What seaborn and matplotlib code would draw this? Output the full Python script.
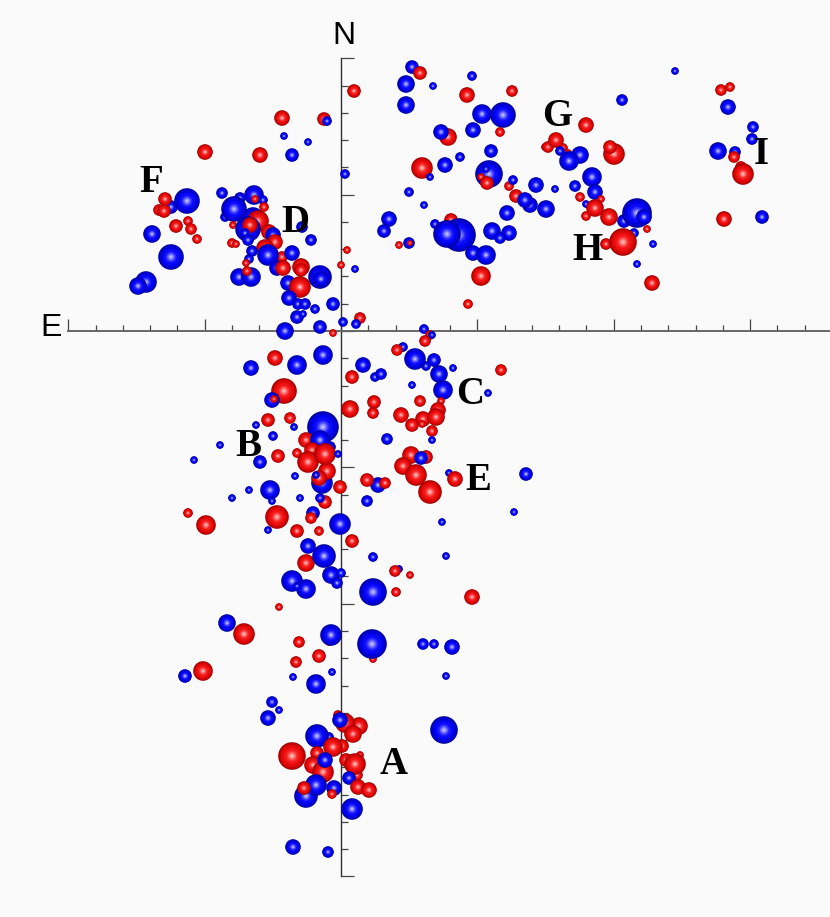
import pandas as pd
import matplotlib.pyplot as plt
import seaborn as sns

# offsets from the axis crossing, rows are kind, east-west, north-south, size
# later rows sit in front of earlier ones
north_west = [
    ("r", 13, 240, 6), ("r", -59, 213, 7), ("r", -17, 212, 6), ("b", -14, 210, 4),
    ("b", -57, 195, 3), ("b", -33, 189, 3), ("r", -136, 179, 7), ("r", -81, 176, 7),
    ("b", -49, 176, 6), ("b", 4, 157, 4),
]
cluster_f = [
    ("b", -170, 124, 6), ("r", -176, 132, 6), ("b", -154, 130, 12), ("r", -182, 121, 5),
    ("r", -177, 120, 6), ("r", -165, 105, 6), ("r", -153, 110, 4), ("r", -150, 102, 5),
    ("r", -144, 92, 4), ("b", -189, 97, 8), ("b", -170, 74, 12), ("b", -195, 49, 10),
    ("b", -203, 45, 8),
]
cluster_d = [
    ("b", -119, 138, 5), ("b", -101, 133, 5), ("b", -87, 136, 9), ("b", -78, 131, 4),
    ("r", -86, 132, 3), ("b", -116, 114, 4), ("b", -107, 122, 12), ("r", -77, 124, 4),
    ("b", -88, 113, 10), ("r", -83, 110, 10), ("r", -108, 106, 3), ("b", -39, 104, 5),
    ("b", -93, 102, 12), ("r", -91, 106, 7), ("r", -72, 99, 7), ("b", -96, 98, 4),
    ("b", -68, 96, 7), ("b", -30, 91, 5), ("b", -93, 91, 5), ("r", -109, 88, 4),
    ("r", -105, 87, 3), ("r", -66, 89, 7), ("r", -76, 83, 8), ("b", -89, 80, 5),
    ("r", -59, 74, 5), ("b", -73, 76, 10), ("b", -49, 78, 7), ("b", -92, 72, 4),
    ("r", -95, 68, 3), ("b", -64, 63, 7), ("r", -58, 63, 7), ("r", -40, 64, 8),
    ("r", -40, 61, 6), ("b", -102, 54, 8), ("b", -90, 54, 9), ("r", -94, 60, 4),
    ("b", -21, 54, 11), ("b", -20, 52, 7), ("b", -53, 48, 7), ("r", -41, 44, 10),
    ("b", -52, 33, 7), ("b", -43, 27, 5), ("b", -36, 27, 5), ("b", -26, 22, 4),
    ("b", -8, 27, 6), ("b", -44, 14, 6), ("b", -38, 17, 3), ("r", 19, 13, 5),
    ("b", 15, 7, 4), ("b", 2, 9, 4), ("b", -21, 4, 6), ("b", -56, 0, 8),
    ("r", -8, -2, 3), ("r", 0, 66, 3), ("b", 14, 62, 3), ("r", 6, 81, 3),
]
north_middle = [
    ("b", 48, 112, 7), ("b", 43, 100, 6), ("r", 58, 86, 3), ("b", 68, 88, 5),
    ("r", 69, 88, 2), ("b", 68, 139, 4), ("b", 71, 264, 6), ("r", 79, 258, 6),
    ("b", 65, 247, 8), ("b", 65, 226, 8), ("b", 131, 255, 4), ("b", 92, 245, 3),
    ("r", 126, 236, 7), ("r", 171, 240, 5), ("r", 107, 194, 8), ("b", 100, 199, 7),
    ("b", 141, 217, 9), ("b", 162, 216, 12), ("r", 159, 199, 4), ("b", 132, 201, 7),
    ("b", 150, 180, 6), ("b", 119, 174, 4), ("r", 81, 163, 10), ("b", 104, 166, 7),
    ("b", 89, 154, 3), ("b", 148, 157, 13), ("r", 140, 154, 3), ("b", 145, 162, 3),
    ("r", 146, 148, 6),
]
north_east = [
    ("r", 245, 206, 7), ("b", 281, 231, 5), ("b", 334, 260, 3), ("r", 389, 244, 4),
    ("r", 380, 241, 5), ("b", 387, 224, 7), ("r", 204, 184, 3), ("r", 207, 184, 5),
    ("r", 222, 183, 4), ("r", 215, 191, 7), ("r", 227, 178, 3), ("b", 219, 180, 4),
    ("b", 239, 176, 8), ("b", 228, 170, 9), ("r", 273, 177, 10), ("r", 269, 184, 6),
    ("r", 168, 145, 4), ("b", 172, 151, 4), ("b", 195, 146, 7), ("r", 175, 135, 6),
    ("b", 214, 142, 3), ("b", 234, 145, 5), ("b", 251, 154, 9), ("b", 254, 139, 7),
    ("r", 239, 134, 4), ("b", 189, 126, 7), ("b", 184, 131, 7), ("b", 205, 122, 8),
    ("b", 377, 180, 8), ("b", 412, 204, 5), ("b", 411, 192, 5), ("b", 394, 179, 5),
    ("r", 393, 174, 5), ("r", 400, 164, 5), ("r", 402, 157, 10), ("b", 83, 126, 3),
    ("b", 245, 127, 3), ("r", 260, 132, 3), ("r", 254, 123, 8), ("r", 245, 115, 4),
    ("r", 268, 114, 8), ("b", 283, 110, 6), ("b", 296, 118, 14), ("b", 303, 114, 7),
    ("b", 293, 98, 4), ("r", 306, 102, 3), ("r", 265, 87, 5), ("r", 282, 89, 13),
    ("b", 312, 87, 3), ("b", 296, 67, 3), ("r", 311, 48, 7), ("r", 383, 112, 7),
    ("b", 421, 114, 6),
]
north_low = [
    ("b", 166, 118, 7), ("b", 151, 100, 8), ("b", 168, 98, 7), ("b", 159, 93, 5),
    ("r", 110, 111, 6), ("b", 94, 107, 4), ("b", 118, 96, 16), ("b", 106, 97, 13),
    ("b", 132, 78, 7), ("b", 145, 76, 9), ("r", 140, 55, 9), ("r", 127, 27, 4),
    ("b", 83, 2, 4), ("r", 89, -4, 4), ("b", 91, -4, 3), ("r", 84, -10, 5),
]
cluster_b = [
    ("b", -18, -24, 9), ("r", -66, -27, 7), ("b", -44, -34, 9), ("b", -90, -37, 7),
    ("r", -57, -60, 12), ("b", -69, -69, 7), ("r", -67, -68, 3), ("r", -73, -89, 6),
    ("r", -51, -87, 5), ("b", -85, -94, 3), ("b", -47, -96, 3), ("b", -68, -105, 4),
    ("b", -121, -114, 3), ("b", -147, -129, 3), ("b", -18, -96, 15), ("r", -35, -109, 7),
    ("b", -11, -116, 5), ("b", -21, -109, 9), ("r", -29, -119, 7), ("r", -44, -122, 4),
    ("r", -63, -125, 6), ("b", -81, -131, 6), ("b", -19, -152, 10), ("r", -14, -140, 8),
    ("r", -22, -147, 7), ("b", -25, -144, 3), ("r", -33, -131, 10), ("r", -16, -123, 10),
    ("b", -3, -123, 3), ("b", -46, -145, 3), ("b", -71, -159, 9), ("b", -92, -159, 3),
    ("b", -109, -167, 3), ("b", -69, -170, 3), ("b", -41, -167, 3), ("r", -16, -171, 6),
    ("b", -21, -167, 4), ("r", -1, -156, 6), ("r", -153, -182, 4), ("r", -135, -194, 9),
    ("r", -64, -186, 11), ("b", -73, -199, 3), ("b", -28, -182, 6), ("r", -30, -187, 5),
    ("r", -44, -200, 6), ("r", -22, -200, 4), ("b", -1, -193, 10), ("r", 11, -210, 6),
    ("b", -33, -215, 7), ("r", -35, -232, 8), ("b", -17, -225, 11), ("b", -10, -244, 8),
    ("b", -4, -252, 5), ("b", 0, -242, 4), ("b", -49, -250, 10), ("b", -35, -258, 9),
    ("b", -44, -255, 3), ("r", -62, -276, 3),
]
clusters_c_e = [
    ("b", 22, -34, 7), ("r", 11, -46, 6), ("b", 34, -46, 4), ("b", 40, -43, 5),
    ("b", 71, -54, 3), ("b", 62, -16, 4), ("r", 56, -19, 5), ("b", 85, -35, 4),
    ("b", 74, -28, 10), ("b", 93, -29, 6), ("b", 112, -37, 3), ("b", 98, -43, 8),
    ("b", 102, -59, 9), ("r", 160, -39, 5), ("b", 147, -62, 3), ("r", 79, -70, 5),
    ("r", 100, -70, 3), ("r", 33, -71, 6), ("r", 32, -82, 5), ("r", 9, -78, 8),
    ("r", 60, -84, 7), ("r", 97, -79, 7), ("r", 82, -88, 7), ("r", 95, -86, 8),
    ("r", 71, -94, 6), ("r", 81, -93, 3), ("r", 91, -100, 5), ("b", 91, -109, 3),
    ("b", 46, -108, 5), ("r", 70, -124, 8), ("r", 85, -126, 6), ("b", 80, -127, 6),
    ("r", 62, -135, 8), ("r", 75, -144, 10), ("r", 89, -161, 11), ("b", 108, -142, 3),
    ("r", 114, -148, 7), ("b", 185, -143, 6), ("b", 37, -154, 7), ("r", 26, -149, 6),
    ("r", 44, -152, 5), ("b", 26, -170, 5), ("b", 101, -191, 3), ("b", 173, -181, 3),
    ("b", 32, -226, 4), ("b", 105, -225, 3), ("b", 58, -238, 3), ("r", 54, -240, 5),
    ("r", 69, -244, 3), ("b", 32, -261, 13), ("r", 55, -261, 4), ("r", 131, -266, 7),
]
south = [
    ("b", -114, -292, 8), ("r", -97, -303, 10), ("r", -12, -310, 4), ("b", -10, -304, 10),
    ("r", 32, -328, 3), ("b", 31, -313, 14), ("b", 82, -313, 5), ("b", 93, -313, 4),
    ("b", 111, -316, 7), ("r", -42, -311, 5), ("r", -22, -325, 6), ("r", -45, -331, 5),
    ("b", -156, -345, 6), ("r", -138, -340, 9), ("b", -9, -341, 3), ("b", -48, -346, 3),
    ("b", -25, -353, 9), ("b", 105, -345, 3), ("b", -69, -371, 5), ("b", -62, -379, 3),
    ("b", -73, -387, 7), ("b", 103, -399, 13),
]
cluster_a = [
    ("r", -3, -384, 4), ("r", 18, -395, 8), ("r", 4, -392, 9), ("b", -1, -389, 7),
    ("r", 12, -403, 8), ("b", -12, -406, 4), ("b", -24, -405, 11), ("r", 1, -415, 6),
    ("r", -8, -416, 9), ("r", -49, -425, 13), ("r", -24, -422, 6), ("r", -28, -434, 8),
    ("r", -18, -441, 10), ("b", -16, -429, 7), ("r", 5, -429, 6), ("r", 19, -424, 3),
    ("r", 16, -444, 5), ("r", 14, -433, 10), ("b", 8, -447, 6), ("r", 17, -456, 7),
    ("r", 28, -459, 7), ("b", -35, -465, 11), ("b", -7, -457, 7), ("r", -9, -463, 4),
    ("b", -25, -454, 10), ("r", -37, -457, 6), ("b", 11, -478, 10), ("b", -48, -516, 7),
    ("b", -13, -521, 5),
]

region_names = ["A", "B", "C", "D", "E", "F", "G", "H", "I"]
region_x = [53, -93, 129, -46, 137, -190, 216, 246, 420]
region_y = [-434, -116, -64, 109, -149, 148, 215, 81, 177]

BG = "#fafafa"
STEP = 27.27
DPI = 100
PAD = 0.8  # spheres read a bit larger than their bright core

# radial bands of one sphere, outer rim first
blue_bands = [(1.0, "#00009c"), (0.92, "#0000c8"), (0.8, "#0000e6"), (0.62, "#0a0aff"),
              (0.42, "#2a2aff"), (0.3, "#5a5aff"), (0.2, "#8c8cff"), (0.1, "#bcbcff")]
red_bands = [(1.0, "#9c0000"), (0.92, "#c80000"), (0.8, "#e00808"), (0.62, "#f01414"),
             (0.42, "#f83030"), (0.3, "#ff5a5a"), (0.2, "#ff8c8c"), (0.1, "#ffbcbc")]

spheres = north_west + cluster_f + cluster_d + north_middle + north_east + north_low \
    + cluster_b + clusters_c_e + south + cluster_a

rows = []
for kind, x, y, size in spheres:
    bands = red_bands if kind == "r" else blue_bands
    for frac, shade in bands:
        # size is a radius in px, scatter wants pt^2
        area = round((2 * (size + PAD) * frac * 72 / DPI) ** 2, 3)
        rows.append({"x": x, "y": y, "area": area, "shade": shade})
df = pd.DataFrame(rows)

sns.set_theme(style="white")
plt.rcParams["text.color"] = "black"
fig = plt.figure(figsize=(8.3, 9.17), dpi=DPI, facecolor=BG)
ax = fig.add_axes([0, 0, 1, 1], facecolor=BG)

sns.scatterplot(
    data=df, x="x", y="y", hue="shade", size="area",
    palette={s: s for s in df["shade"].unique()},
    sizes={a: a for a in df["area"].unique()},
    linewidth=0, legend=False, ax=ax, zorder=3,
)

ax.set_xlim(-341, 489)
ax.set_ylim(-586, 331)
ax.set_xlabel("")
ax.set_ylabel("")

for side in ["top", "right"]:
    ax.spines[side].set_visible(False)
ax.spines["left"].set_position(("data", 0))
ax.spines["bottom"].set_position(("data", 0))
ax.spines["left"].set_bounds(-20 * STEP, 10 * STEP)
ax.spines["bottom"].set_bounds(-10 * STEP, 489)
ax.spines["left"].set_color("#303030")
ax.spines["left"].set_linewidth(1.0)
ax.spines["bottom"].set_color("#666666")
ax.spines["bottom"].set_linewidth(1.4)

x_minor = [i * STEP for i in range(-10, 18)]
x_major = [i * STEP for i in range(-10, 18, 5)]
y_minor = [i * STEP for i in range(-20, 11)]
y_major = [i * STEP for i in range(-20, 11, 5)]
ax.set_xticks(x_major)
ax.set_xticks(x_minor, minor=True)
ax.set_yticks(y_major)
ax.set_yticks(y_minor, minor=True)
ax.tick_params(axis="both", which="both", direction="in", labelbottom=False, labelleft=False,
               bottom=True, left=True, color="#444444", width=0.9)
ax.tick_params(axis="x", which="major", length=9)
ax.tick_params(axis="x", which="minor", length=4.5)
ax.tick_params(axis="y", which="major", length=9.5)
ax.tick_params(axis="y", which="minor", length=5)

ax.text(3, 295, "N", fontsize=23, family="Liberation Sans", ha="center", va="center", zorder=5)
ax.text(-290, 3, "E", fontsize=23, family="Liberation Sans", ha="center", va="center", zorder=5)
for name, x, y in zip(region_names, region_x, region_y):
    ax.text(x, y, name, fontsize=28, family="Liberation Serif", weight="bold", ha="center",
            va="center", color="black", zorder=5)

fig.savefig("out.png", dpi=DPI, facecolor=BG)
